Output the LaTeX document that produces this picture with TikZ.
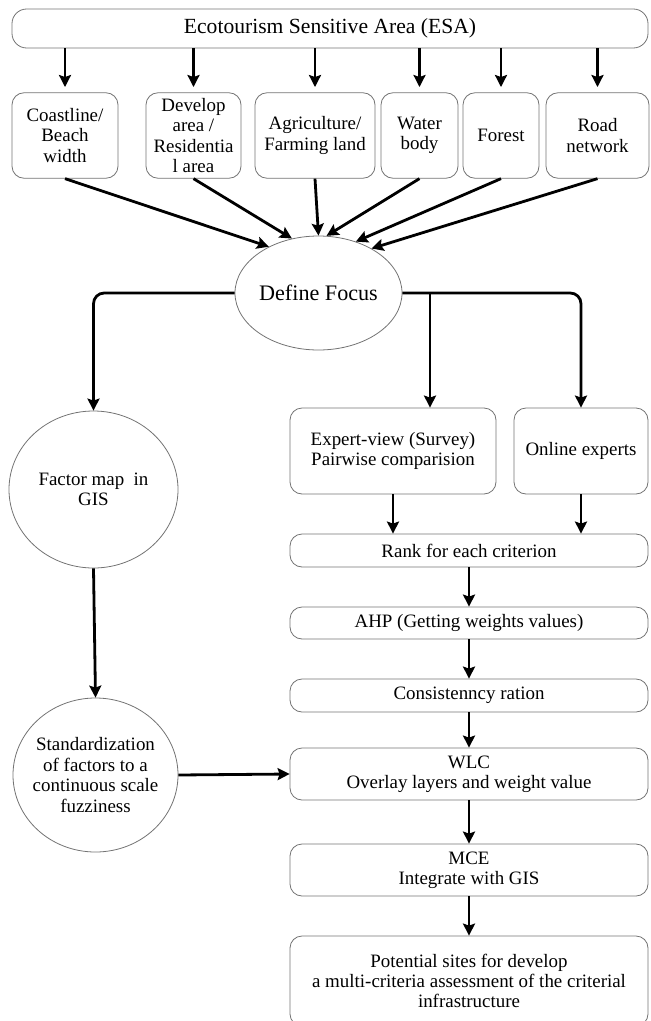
\documentclass[tikz,border=0pt]{standalone}
\usepackage{fontspec}
\setmainfont{Liberation Serif}
\usepackage{tikz}
\usetikzlibrary{shapes.geometric,arrows.meta}

\begin{document}
\begin{tikzpicture}[x=0.75pt,y=-0.75pt,
        box/.style={draw=black!55, line width=0.6pt, rounded corners=9pt, align=center,
                    inner sep=0pt, font=\fontsize{14.2}{15.3}\selectfont},
        oval/.style={draw=black!55, line width=0.6pt, ellipse, align=center,
                     inner sep=-20pt, font=\fontsize{14.2}{15.3}\selectfont},
        arr/.style={line width=2.1pt, -{Stealth[length=9pt,width=9pt,inset=1.5pt]}}]

        \useasboundingbox (0,0) rectangle (650,1021);

        %Sensitive area
        \node [box, rounded corners=11pt, minimum width=477pt, minimum height=29.25pt,
               font=\fontsize{16.2}{18}\selectfont] (esa) at (330,28.5) {Ecotourism Sensitive Area (ESA)};

        %Criteria
        \node [box, minimum width=79.5pt, minimum height=64.1pt] (coast) at (65,135.5) {Coastline/\\Beach\\width};
        \node [box, minimum width=71.25pt, minimum height=64.1pt] (develop) at (193.5,135.5) {Develop\\area /\\Residentia\\l area};
        \node [box, minimum width=90pt, minimum height=64.1pt] (agri) at (315,135.5) {Agriculture/\\Farming land};
        \node [box, minimum width=57.75pt, minimum height=64.1pt] (water) at (419.5,135.5) {Water\\body};
        \node [box, minimum width=57pt, minimum height=64.1pt] (forest) at (501,135.5) {Forest};
        \node [box, minimum width=77.25pt, minimum height=64.1pt] (road) at (597.5,135.5) {Road\\network};

        %Focus
        \node [oval, minimum width=125.25pt, minimum height=85.5pt,
               font=\fontsize{16.6}{18}\selectfont] (focus) at (318.5,293) {Define Focus};

        %Left column
        \node [oval, minimum width=126.75pt, minimum height=117.75pt] (factor) at (93.5,489.5) {Factor map~ in\\GIS};
        \node [oval, minimum width=123.75pt, minimum height=115.5pt] (standard) at (95.5,775)
              {Standardization\\of factors to a\\continuous scale\\fuzziness};

        %Right column
        \node [box, minimum width=154.5pt, minimum height=64.5pt] (expert) at (393,451) {Expert-view (Survey)\\Pairwise comparision};
        \node [box, minimum width=100.5pt, minimum height=64.5pt] (online) at (581,451) {Online experts};
        \node [box, minimum width=268.5pt, minimum height=24.75pt] (rank) at (469,550.5) {Rank for each criterion};
        \node [box, minimum width=268.5pt, minimum height=24pt] (ahp) at (469,623) {AHP (Getting weights values)};
        \node [box, minimum width=268.5pt, minimum height=24.75pt] (cons) at (469,695.5) {Consistenncy ration};
        \node [box, minimum width=268.5pt, minimum height=39pt] (wlc) at (469,774) {WLC\\Overlay layers and weight value};
        \node [box, minimum width=268.5pt, minimum height=39pt] (mce) at (469,870) {MCE\\Integrate with GIS};
        \node [box, minimum width=268.5pt, minimum height=67.5pt] (final) at (469,981)
              {Potential sites for develop\\a multi-criteria assessment of the criterial\\infrastructure};

        %Arrows to criteria
        \draw [arr, shorten >=4pt] (esa.south -| coast.north) -- (coast.north);
        \draw [arr, shorten >=4pt] (esa.south -| develop.north) -- (develop.north);
        \draw [arr, shorten >=4pt] (esa.south -| agri.north) -- (agri.north);
        \draw [arr, shorten >=4pt] (esa.south -| water.north) -- (water.north);
        \draw [arr, shorten >=4pt] (esa.south -| forest.north) -- (forest.north);
        \draw [arr, shorten >=4pt] (esa.south -| road.north) -- (road.north);

        %Arrows to focus
        \draw [arr] (coast.south) -- (focus.137);
        \draw [arr] (develop.south) -- (focus.116);
        \draw [arr] (agri.south) -- (focus.90);
        \draw [arr] (water.south) -- (focus.82);
        \draw [arr] (forest.south) -- (focus.54);
        \draw [arr] (road.south) -- (focus.40);

        %Branches
        \draw [arr, rounded corners=8pt] (focus.west) -| (factor.north);
        \draw [arr, rounded corners=8pt] (focus.east) -| (online.north);
        \coordinate (split) at (430,293);
        \draw [arr] (split) -- (split |- expert.north);

        %Left flow
        \draw [arr] (factor.south) -- (standard.north);
        \draw [arr] (standard.east) -- (wlc.west);

        %Right flow
        \draw [arr] (expert.south) -- (expert.south |- rank.north);
        \draw [arr] (online.south) -- (online.south |- rank.north);
        \draw [arr] (rank.south) -- (ahp.north);
        \draw [arr] (ahp.south) -- (cons.north);
        \draw [arr] (cons.south) -- (wlc.north);
        \draw [arr] (wlc.south) -- (mce.north);
        \draw [arr] (mce.south) -- (final.north);

\end{tikzpicture}
\end{document}
